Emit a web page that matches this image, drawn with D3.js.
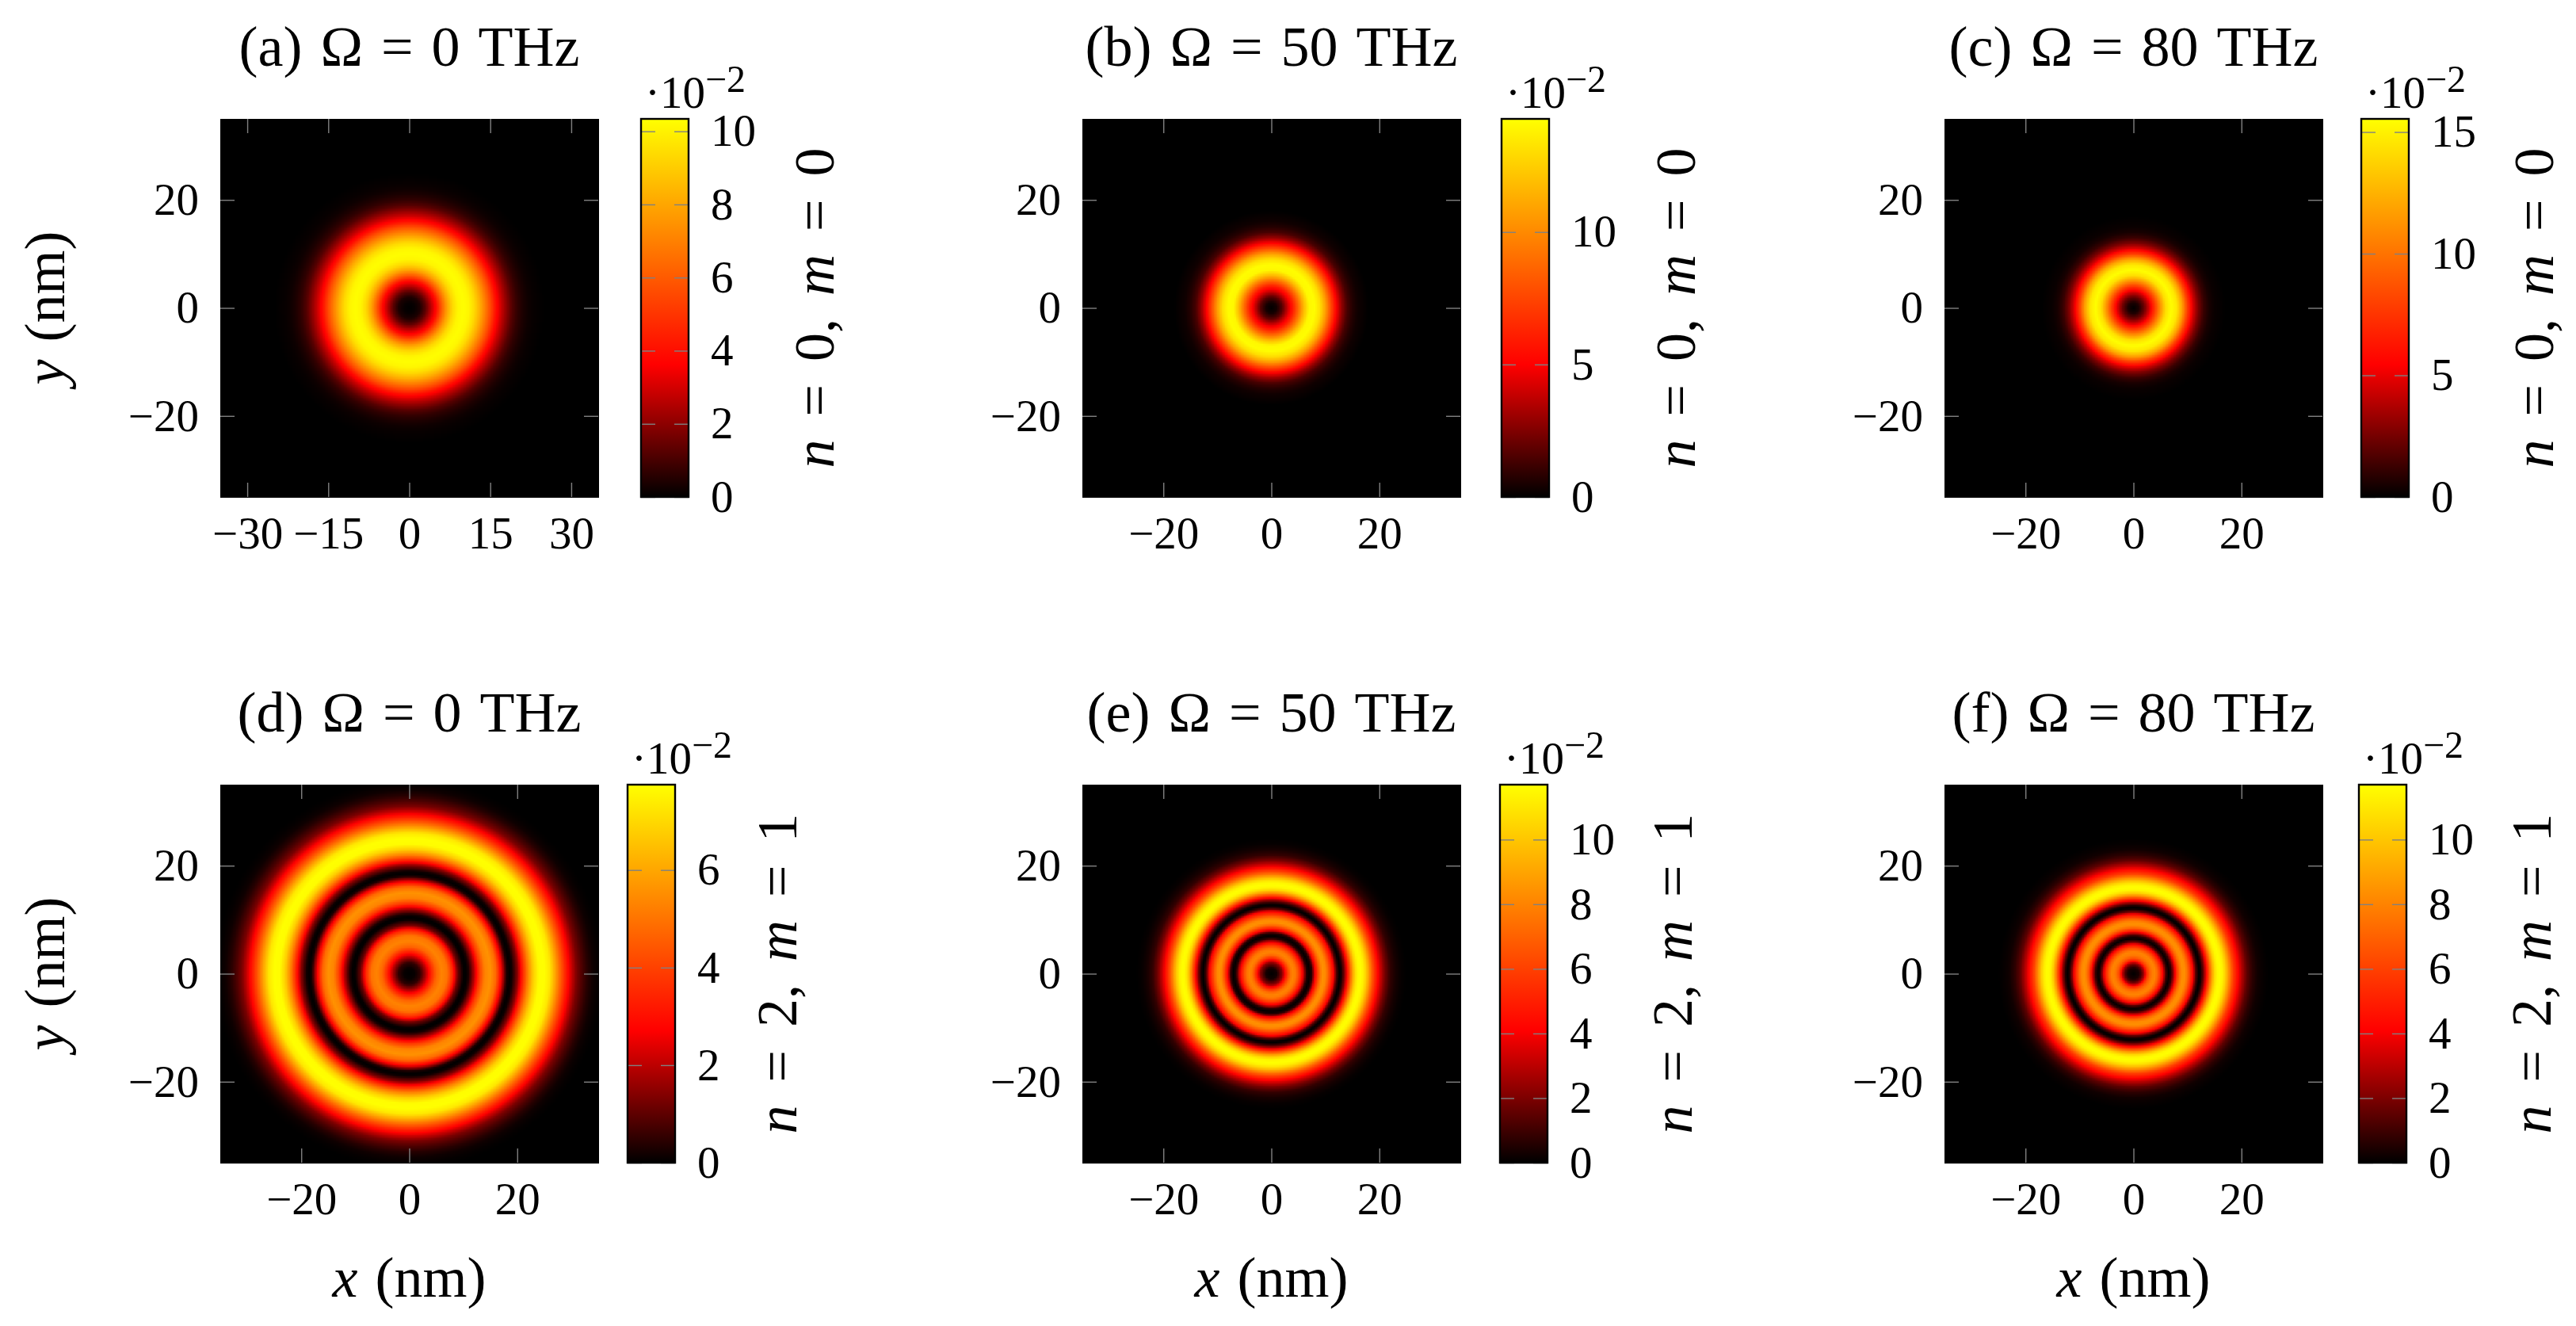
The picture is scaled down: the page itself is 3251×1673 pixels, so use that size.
<!DOCTYPE html>
<html>
<head>
<meta charset="utf-8">
<script src="https://cdnjs.cloudflare.com/ajax/libs/d3/7.8.5/d3.min.js"></script>
<style>
  body { margin: 0; background: #fff; overflow: hidden; }
  canvas, svg { position: absolute; left: 0; top: 0; }
  text { font-family: "Liberation Serif", serif; fill: #000; }
</style>
</head>
<body>
<canvas id="maps" width="3251" height="1673"></canvas>
<svg id="chart" width="3251" height="1673"></svg>
<script>
// panel captions, left to right then top to bottom
var letters = ["a", "b", "c", "d", "e", "f"];
var omegas = [0, 50, 80, 0, 50, 80];
var modeN = [0, 0, 0, 2, 2, 2];
var modeM = [0, 0, 0, 1, 1, 1];

// ticks
var xTicksA = [-30, -15, 0, 15, 30];
var xTicksRest = [-20, 0, 20];
var yTicks = [-20, 0, 20];
var barTicks = [
  [0, 2, 4, 6, 8, 10],
  [0, 5, 10],
  [0, 5, 10, 15],
  [0, 2, 4, 6],
  [0, 2, 4, 6, 8, 10],
  [0, 2, 4, 6, 8, 10]
];
var barMax = [10.34, 14.27, 15.54, 7.75, 11.7, 11.7];

// colormap
var mapStops = [0, 0.35, 1];
var mapColors = ["#000000", "#ff0000", "#ffff00"];

// radial profiles, r in nm, values in units of 10^-2
var radiiTop = [0, 1, 2, 3, 4, 5, 6, 7, 8, 9, 10, 11, 12, 13, 14, 15, 16, 17, 18, 19, 20, 21, 22, 23, 24, 25];
var valuesA = [0, 0.1, 0.4, 1.3, 2.6, 3.9, 6, 7.9, 9.3, 10.1, 10.3, 10.1, 9.4, 8.3, 7, 5.6, 4, 2.9, 2, 1.2, 0.7, 0.4, 0.2, 0.1, 0.05, 0];
var valuesB = [0, 0.4, 1.7, 3.9, 6, 8.8, 11.7, 14, 14.2, 13.1, 10.8, 7.8, 5, 2.9, 1.4, 0.7, 0.3, 0.15, 0, 0, 0, 0, 0, 0, 0, 0];
var valuesC = [0, 0.6, 2.3, 4.7, 7.8, 11.2, 14.3, 15.5, 14.6, 11.8, 7.8, 4.7, 2.6, 1.2, 0.5, 0.2, 0.1, 0, 0, 0, 0, 0, 0, 0, 0, 0];

var radiiD = [0, 1, 2, 3, 4, 5, 6, 7, 8, 9, 10, 10.5, 11, 12, 13, 14, 15, 16, 17, 18, 18.5, 19, 20, 21, 22, 23, 24, 25, 26, 27, 28, 29, 30, 31, 32, 33, 34, 35, 36];
var valuesD = [0, 0.08, 0.5, 1.8, 3.3, 4.7, 5.3, 5, 3.5, 1.15, 0.05, 0, 0.3, 1.9, 3.9, 5.3, 5.6, 4.8, 2.7, 0.3, 0, 0.15, 1.4, 3.4, 5.3, 6.8, 7.7, 7.75, 7.3, 6, 4.6, 3.3, 2.2, 1.3, 0.8, 0.4, 0.15, 0.05, 0];

var radiiE = [0, 1, 2, 2.5, 3, 3.5, 4, 4.5, 5, 5.5, 6, 6.5, 7, 7.5, 8, 8.5, 9, 9.5, 10, 10.5, 11, 11.5, 12, 12.5, 12.7, 13, 13.5, 14, 14.5, 15, 15.5, 16, 16.5, 17, 17.5, 18, 18.5, 19, 19.5, 20, 21, 22, 23, 24, 25];
var valuesE = [0, 0.3, 2.2, 4.1, 5.9, 7.4, 8, 7.6, 6.4, 4.9, 3, 0.6, 0, 0.7, 3.7, 5.6, 7.4, 8.4, 8.2, 7, 5.5, 4.1, 1.4, 0.1, 0, 0.4, 1.9, 4.1, 6.4, 8.7, 10.5, 11.5, 11.7, 11.3, 10.3, 8.9, 7.3, 5.9, 4.7, 3.6, 1.9, 0.8, 0.35, 0.1, 0];

var radiiF = [0, 1, 1.5, 2, 2.5, 3, 3.5, 4, 4.5, 5, 5.5, 6, 6.5, 7, 7.5, 8, 8.5, 9, 9.5, 10, 10.5, 11, 11.5, 12, 12.2, 12.5, 13, 13.5, 14, 14.5, 15, 15.5, 16, 16.5, 17, 17.5, 18, 18.5, 19, 19.5, 20, 21, 22, 23, 24, 25];
var valuesF = [0, 0.4, 1.3, 2.9, 5.5, 7, 7.8, 8, 7, 5.5, 3.7, 1.1, 0, 0.8, 3, 5.5, 7.3, 8.3, 8.3, 7.3, 5.7, 4.1, 1.5, 0.15, 0, 0.3, 1.9, 4.1, 6.4, 8.7, 10.5, 11.5, 11.7, 11.3, 10.3, 8.9, 7.4, 5.9, 4.9, 3.9, 3, 1.5, 0.7, 0.25, 0.1, 0];

var radii = [radiiTop, radiiTop, radiiTop, radiiD, radiiE, radiiF];
var values = [valuesA, valuesB, valuesC, valuesD, valuesE, valuesF];

// layout
var colLeft = [278, 1366, 2454];
var rowTop = [150, 990];
var size = 477;
var barOffset = [531, 529, 526, 514, 527, 523];
var barWidth = 60;
var labelOffset = [183, 184, 182, 153, 182, 182];
var fontSize = 57;
var labelSize = 72;
var tickLen = 18;
var tickColor = "#808080";

var svg = d3.select("#chart");
var ctx = document.getElementById("maps").getContext("2d");

var defs = svg.append("defs");
var grad = defs.append("linearGradient")
  .attr("id", "hot").attr("x1", 0).attr("y1", 1).attr("x2", 0).attr("y2", 0);
mapStops.forEach(function(s, i) {
  grad.append("stop").attr("offset", s).attr("stop-color", mapColors[i]);
});

// styles an axis: gray inward ticks, no domain line, optional labels
function styleAxis(g, showLabels) {
  g.select(".domain").remove();
  g.selectAll("line").attr("stroke", tickColor).attr("stroke-width", 1.4);
  g.selectAll("text").attr("font-size", fontSize)
    .attr("font-family", '"Liberation Serif", serif').attr("fill", "#000");
  if (!showLabels) g.selectAll("text").remove();
}

function drawMap(i, left, top, x, y) {
  var colour = d3.scaleLinear().domain(mapStops.map(function(s) { return s * barMax[i]; })).range(mapColors);
  var profile = d3.scaleLinear().domain(radii[i]).range(values[i]).clamp(true);
  var step = 2;
  for (var py = 0; py < size; py += step) {
    for (var px = 0; px < size; px += step) {
      var r = Math.hypot(x.invert(px + step / 2), y.invert(py + step / 2));
      ctx.fillStyle = colour(profile(r));
      ctx.fillRect(left + px, top + py, step, step);
    }
  }
}

function drawPanel(i) {
  var col = i % 3, row = Math.floor(i / 3);
  var left = colLeft[col], top = rowTop[row];
  var cx = left + size / 2, cy = top + size / 2;

  var x = d3.scaleLinear().domain([-35, 35]).range([0, size]);
  var y = d3.scaleLinear().domain([-35, 35]).range([size, 0]);

  drawMap(i, left, top, x, y);

  var xTicks = i === 0 ? xTicksA : xTicksRest;
  var g = svg.append("g").attr("transform", "translate(" + left + "," + top + ")");

  g.append("g").attr("transform", "translate(0," + size + ")")
    .call(d3.axisBottom(x).tickValues(xTicks).tickSize(-tickLen).tickPadding(25).tickFormat(d3.format("d")))
    .call(styleAxis, true);
  g.append("g")
    .call(d3.axisTop(x).tickValues(xTicks).tickSize(-tickLen))
    .call(styleAxis, false);
  g.append("g")
    .call(d3.axisLeft(y).tickValues(yTicks).tickSize(-tickLen).tickPadding(27).tickFormat(d3.format("d")))
    .call(styleAxis, true);
  g.append("g").attr("transform", "translate(" + size + ",0)")
    .call(d3.axisRight(y).tickValues(yTicks).tickSize(-tickLen))
    .call(styleAxis, false);

  // title
  svg.append("text")
    .attr("x", cx).attr("y", top - 67)
    .attr("text-anchor", "middle").attr("font-size", labelSize)
    .attr("word-spacing", 5)
    .text("(" + letters[i] + ") \u03a9 = " + omegas[i] + " THz");

  // colorbar
  var barLeft = left + barOffset[i];
  var c = svg.append("g").attr("transform", "translate(" + barLeft + "," + top + ")");
  var barY = d3.scaleLinear().domain([0, barMax[i]]).range([size, 0]);
  c.append("rect").attr("width", barWidth).attr("height", size).attr("fill", "url(#hot)");
  c.append("g").attr("transform", "translate(" + barWidth + ",0)")
    .call(d3.axisRight(barY).tickValues(barTicks[i]).tickSize(-tickLen).tickPadding(28).tickFormat(d3.format("d")))
    .call(styleAxis, true);
  c.append("g")
    .call(d3.axisLeft(barY).tickValues(barTicks[i]).tickSize(-tickLen))
    .call(styleAxis, false);
  c.append("rect").attr("width", barWidth).attr("height", size)
    .attr("fill", "none").attr("stroke", "#000").attr("stroke-width", 2.4);

  // scale factor on top of the bar
  var factor = c.append("text").attr("x", 5).attr("y", -14).attr("font-size", fontSize);
  factor.append("tspan").text("\u00b710");
  factor.append("tspan").attr("dy", -20).attr("font-size", 48).text("\u22122");

  // mode label
  var modeLabel = svg.append("text")
    .attr("transform", "translate(" + (barLeft + barWidth + labelOffset[i]) + "," + cy + ") rotate(-90)")
    .attr("text-anchor", "middle").attr("font-size", labelSize).attr("word-spacing", 11);
  modeLabel.append("tspan").attr("font-style", "italic").text("n");
  modeLabel.append("tspan").text(" = " + modeN[i] + ", ");
  modeLabel.append("tspan").attr("font-style", "italic").text("m");
  modeLabel.append("tspan").text(" = " + modeM[i]);

  // axis titles
  if (col === 0) {
    var yLabel = svg.append("text")
      .attr("transform", "translate(" + 81 + "," + cy + ") rotate(-90)")
      .attr("text-anchor", "middle").attr("font-size", labelSize).attr("word-spacing", 4);
    yLabel.append("tspan").attr("font-style", "italic").text("y");
    yLabel.append("tspan").text(" (nm)");
  }
  if (row === 1) {
    var xLabel = svg.append("text")
      .attr("x", cx).attr("y", top + size + 169)
      .attr("text-anchor", "middle").attr("font-size", labelSize).attr("word-spacing", 4);
    xLabel.append("tspan").attr("font-style", "italic").text("x");
    xLabel.append("tspan").text(" (nm)");
  }
}

d3.range(letters.length).forEach(drawPanel);
</script>
</body>
</html>
